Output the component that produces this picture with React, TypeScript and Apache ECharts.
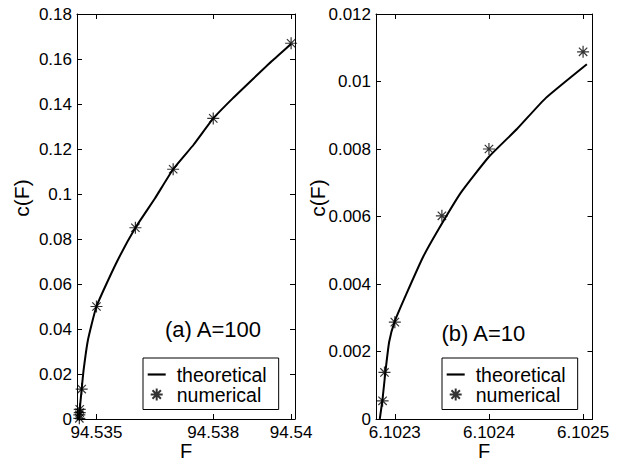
import React, { useEffect, useRef } from "react";
import * as echarts from "echarts";

// Panel (a) A=100
const leftNumF = [94.53456, 94.53456, 94.53457, 94.53457, 94.53462, 94.535, 94.536, 94.53697, 94.538, 94.54];
const leftNumC = [0.0003, 0.0018, 0.0028, 0.0043, 0.0133, 0.05, 0.085, 0.111, 0.1336, 0.167];
const leftTheoF = [94.53455, 94.53458, 94.53462, 94.53467, 94.53478, 94.535, 94.5355, 94.536, 94.5365, 94.53697, 94.5375, 94.538, 94.5385, 94.539, 94.5395, 94.54];
const leftTheoC = [0, 0.006, 0.0133, 0.0218, 0.035, 0.05, 0.069, 0.085, 0.098, 0.111, 0.122, 0.1336, 0.1425, 0.1508, 0.159, 0.1667];
const leftXTicks = [94.535, 94.538, 94.54];

// Panel (b) A=10
const rightNumF = [6.102287, 6.102289, 6.1023, 6.10235, 6.1024, 6.1025];
const rightNumC = [0.00054, 0.00138, 0.00287, 0.00602, 0.008, 0.01088];
const rightTheoF = [6.102284, 6.102287, 6.10229, 6.102294, 6.1023, 6.102313, 6.10233, 6.102346, 6.10237, 6.1024, 6.10243, 6.10246, 6.102504];
const rightTheoC = [0, 0.0006, 0.0014, 0.00229, 0.0029, 0.00375, 0.0048, 0.0056, 0.0067, 0.00777, 0.0086, 0.0095, 0.01051];
const rightXTicks = [6.1023, 6.1024, 6.1025];

const zip = (a: number[], b: number[]) => a.map((v, i) => [v, b[i]]);

const STAR = "path://M0,-10L0,10M-10,0L10,0M-7,-7L7,7M-7,7L7,-7";
const LINE_ICON = "path://M0,0H20V2.4H0Z";
const FONT = "Liberation Sans";

export default function App() {
  const ref = useRef<HTMLDivElement>(null);
  useEffect(() => {
    const chart = echarts.init(ref.current!, null, { renderer: "svg" });
    const tickLabel = { fontSize: 17, color: "#000", fontFamily: FONT, lineHeight: 17 };
    const axisLine = { show: true, lineStyle: { color: "#000", width: 1 } };
    const mkX = (grid: number, min: number, max: number, ticks: number[], pos: "bottom" | "top") => ({
      type: "value",
      gridIndex: grid,
      position: pos,
      min,
      max,
      axisLine: { ...axisLine, onZero: false },
      splitLine: { show: false },
      axisTick: { show: true, inside: true, length: 5, customValues: ticks, lineStyle: { color: "#000" } },
      axisLabel: pos === "bottom"
        ? { show: true, customValues: ticks, margin: 5, ...tickLabel, formatter: (v: number) => String(v) }
        : { show: false },
    });
    const mkY = (grid: number, max: number, interval: number, pos: "left" | "right") => ({
      type: "value",
      gridIndex: grid,
      position: pos,
      min: 0,
      max,
      interval,
      axisLine: { ...axisLine, onZero: false },
      splitLine: { show: false },
      axisTick: { show: true, inside: true, length: 5, lineStyle: { color: "#000" } },
      axisLabel: pos === "left" ? { show: true, margin: 5, ...tickLabel } : { show: false },
    });
    const starStyle = { color: "transparent", borderColor: "#000", borderWidth: 1.2 };
    const legendBase = {
      orient: "vertical",
      selectedMode: false,
      borderColor: "#000",
      borderWidth: 1,
      borderRadius: 0,
      itemGap: 0,
      itemWidth: 18,
      itemHeight: 12,
      symbolKeepAspect: true,
      textStyle: { fontSize: 19.5, color: "#000", fontFamily: FONT, lineHeight: 17.6, padding: [0, 0, 0, 6] },
      data: [
        { name: "theoretical", icon: LINE_ICON, itemStyle: { color: "#000", borderWidth: 0 } },
        { name: "numerical" },
      ],
    };
    const txt = (x: number, y: number, text: string, align: string, size: number, rot = 0, va = "middle") => ({
      type: "text", x, y, rotation: rot,
      style: { text, x: 0, y: 0, align, verticalAlign: va, fontSize: size, fontFamily: FONT, fill: "#000" },
    });
    chart.setOption({
      animation: false,
      backgroundColor: "#fff",
      grid: [
        { left: 77, top: 14, width: 218, height: 405 },
        { left: 376, top: 14, width: 216.5, height: 405 },
      ],
      xAxis: [
        mkX(0, 94.5345, 94.5401, leftXTicks, "bottom"),
        mkX(0, 94.5345, 94.5401, leftXTicks, "top"),
        mkX(1, 6.10228, 6.10251, rightXTicks, "bottom"),
        mkX(1, 6.10228, 6.10251, rightXTicks, "top"),
      ],
      yAxis: [
        mkY(0, 0.18, 0.02, "left"),
        mkY(0, 0.18, 0.02, "right"),
        mkY(1, 0.012, 0.002, "left"),
        mkY(1, 0.012, 0.002, "right"),
      ],
      legend: [
        { ...legendBase, left: 143, top: 358, padding: [6.5, 12, 5, 4.7] },
        { ...legendBase, left: 442, top: 358, padding: [6.5, 12, 5, 4.7] },
      ],
      series: [
        {
          name: "theoretical", type: "line", xAxisIndex: 0, yAxisIndex: 0,
          data: zip(leftTheoF, leftTheoC), symbol: "none", smooth: 0.15,
          lineStyle: { color: "#000", width: 2 }, itemStyle: { color: "#000" },
        },
        {
          name: "numerical", type: "scatter", xAxisIndex: 0, yAxisIndex: 0,
          data: zip(leftNumF, leftNumC), symbol: STAR, symbolSize: 12, itemStyle: starStyle, z: 3,
        },
        {
          name: "theoretical", type: "line", xAxisIndex: 2, yAxisIndex: 2,
          data: zip(rightTheoF, rightTheoC), symbol: "none", smooth: 0.15,
          lineStyle: { color: "#000", width: 2 }, itemStyle: { color: "#000" },
        },
        {
          name: "numerical", type: "scatter", xAxisIndex: 2, yAxisIndex: 2,
          data: zip(rightNumF, rightNumC), symbol: STAR, symbolSize: 12, itemStyle: starStyle, z: 3,
        },
      ],
      graphic: [
        txt(21.5, 198, "c(F)", "center", 21, Math.PI / 2),
        txt(317, 198, "c(F)", "center", 21, Math.PI / 2),
        txt(186, 461, "F", "center", 20, 0, "bottom"),
        txt(484, 461, "F", "center", 20, 0, "bottom"),
        txt(165, 329, "(a) A=100", "left", 22),
        txt(441.5, 333, "(b) A=10", "left", 22),
      ],
    });
    return () => chart.dispose();
  }, []);
  return <div ref={ref} style={{ position: "fixed", left: 0, top: 0, width: 625, height: 462 }} />;
}
